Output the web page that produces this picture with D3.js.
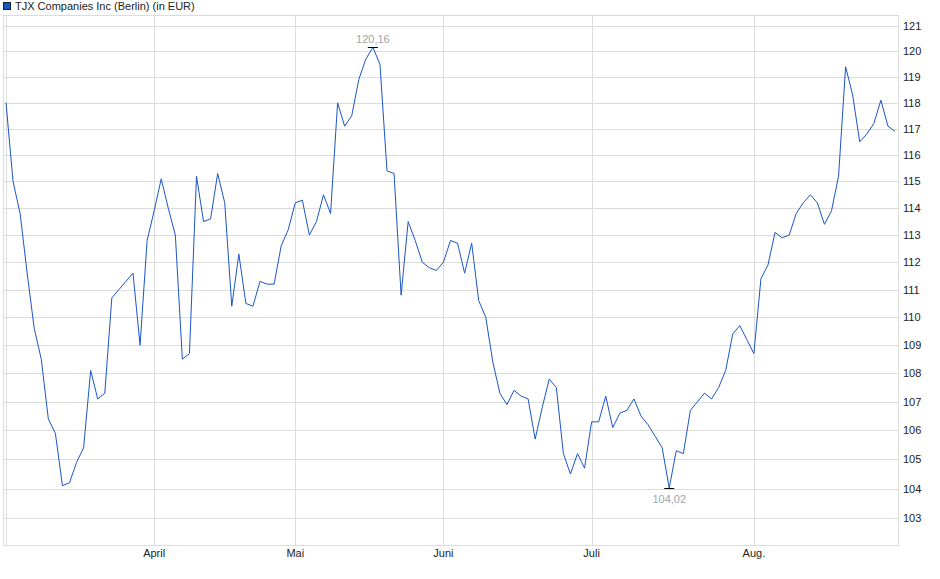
<!DOCTYPE html>
<html>
<head>
<meta charset="utf-8">
<script src="https://cdn.jsdelivr.net/npm/d3@7"></script>
<style>
body{margin:0;background:#fff;font-family:"Liberation Sans",Arial,sans-serif;}
</style>
</head>
<body>
<script>
// closing prices (EUR), one per trading day
var prices = [118.0,115.0,113.8,111.6,109.6,108.5,106.4,105.9,104.1,104.2,
  104.9,105.4,108.1,107.1,107.3,110.7,111.0,111.3,111.6,109.0,
  112.8,113.9,115.1,114.0,113.0,108.5,108.7,115.2,113.5,113.6,
  115.3,114.2,110.4,112.3,110.5,110.4,111.3,111.2,111.2,112.6,
  113.2,114.2,114.3,113.0,113.5,114.5,113.8,118.0,117.1,117.5,
  118.9,119.7,120.16,119.5,115.4,115.3,110.8,113.5,112.8,112.0,
  111.8,111.7,112.0,112.8,112.7,111.6,112.7,110.6,110.0,108.4,
  107.3,106.9,107.4,107.2,107.1,105.7,106.8,107.8,107.5,105.2,
  104.5,105.2,104.7,106.3,106.3,107.2,106.1,106.6,106.7,107.1,
  106.5,106.2,105.8,105.4,104.02,105.3,105.2,106.7,107.0,107.3,
  107.1,107.5,108.1,109.4,109.7,109.2,108.7,111.4,111.9,113.1,
  112.9,113.0,113.8,114.2,114.5,114.2,113.4,113.9,115.2,119.4,
  118.3,116.5,116.8,117.2,118.1,117.1,116.9];
var monthNames = ["April","Mai","Juni","Juli","Aug."];
var monthStart = [21,41,62,83,106];
var yTicks = [103,104,105,106,107,108,109,110,111,112,113,114,115,116,117,118,119,120,121];

var W = 940, H = 579;
var pLeft = 4, pRight = 898, pTop = 16, pBottom = 545;

var svg = d3.select("body").append("svg").attr("width", W).attr("height", H);

var x = d3.scaleLinear().domain([0, prices.length-1]).range([6, 895]);
var y = d3.scaleLog().domain([102.1, 121.4]).range([pBottom, pTop]);

// grid
svg.selectAll("line.h").data(yTicks).enter().append("line")
  .attr("x1", pLeft).attr("x2", pRight)
  .attr("y1", function(d){ return Math.round(y(d))+0.5; })
  .attr("y2", function(d){ return Math.round(y(d))+0.5; })
  .attr("stroke", "#dcdcdc");
svg.selectAll("line.v").data(monthStart).enter().append("line")
  .attr("x1", function(d){ return Math.round(x(d))+0.5; })
  .attr("x2", function(d){ return Math.round(x(d))+0.5; })
  .attr("y1", pTop).attr("y2", pBottom)
  .attr("stroke", "#dcdcdc");
svg.append("line").attr("x1", 6.5).attr("x2", 6.5).attr("y1", pTop).attr("y2", pBottom).attr("stroke", "#dcdcdc");
svg.append("rect").attr("x", pLeft-0.5).attr("y", pTop-0.5)
  .attr("width", pRight-pLeft+1).attr("height", pBottom-pTop+1)
  .attr("fill", "none").attr("stroke", "#dcdcdc");

// y labels
svg.selectAll("text.y").data(yTicks).enter().append("text")
  .attr("x", 903).attr("y", function(d){ return y(d)+4; })
  .attr("font-size", "11px").attr("fill", "#222")
  .text(function(d){ return d; });

// month labels
svg.selectAll("text.m").data(monthStart).enter().append("text")
  .attr("x", function(d){ return x(d); }).attr("y", 557)
  .attr("text-anchor", "middle").attr("font-size", "11px").attr("fill", "#222")
  .text(function(d,i){ return monthNames[i]; });

// line
var line = d3.line().x(function(d,i){ return x(i); }).y(function(d){ return y(d); });
svg.append("path").datum(prices).attr("d", line)
  .attr("fill", "none").attr("stroke", "#1a55c8").attr("stroke-width", 1);

// min / max markers
var iMax = d3.maxIndex(prices), iMin = d3.minIndex(prices);
function fmt(v){ return v.toFixed(2).replace(".", ","); }
[[iMax, -1], [iMin, 1]].forEach(function(p){
  var cx = x(p[0]), cy = Math.round(y(prices[p[0]]))+0.5;
  svg.append("line").attr("x1", cx-5).attr("x2", cx+5).attr("y1", cy).attr("y2", cy)
    .attr("stroke", "#000");
  svg.append("text").attr("x", cx).attr("y", p[1] < 0 ? cy-5 : cy+14)
    .attr("text-anchor", "middle").attr("font-size", "11px").attr("fill", "#a0a4ab")
    .text(fmt(prices[p[0]]));
});

// legend
svg.append("rect").attr("x", 3.5).attr("y", 2.5).attr("width", 7).attr("height", 7)
  .attr("fill", "#1a55c8").attr("stroke", "#123");
svg.append("text").attr("x", 15).attr("y", 10).attr("font-size", "11px").attr("fill", "#222")
  .text("TJX Companies Inc (Berlin) (in EUR)");
</script>
</body>
</html>
